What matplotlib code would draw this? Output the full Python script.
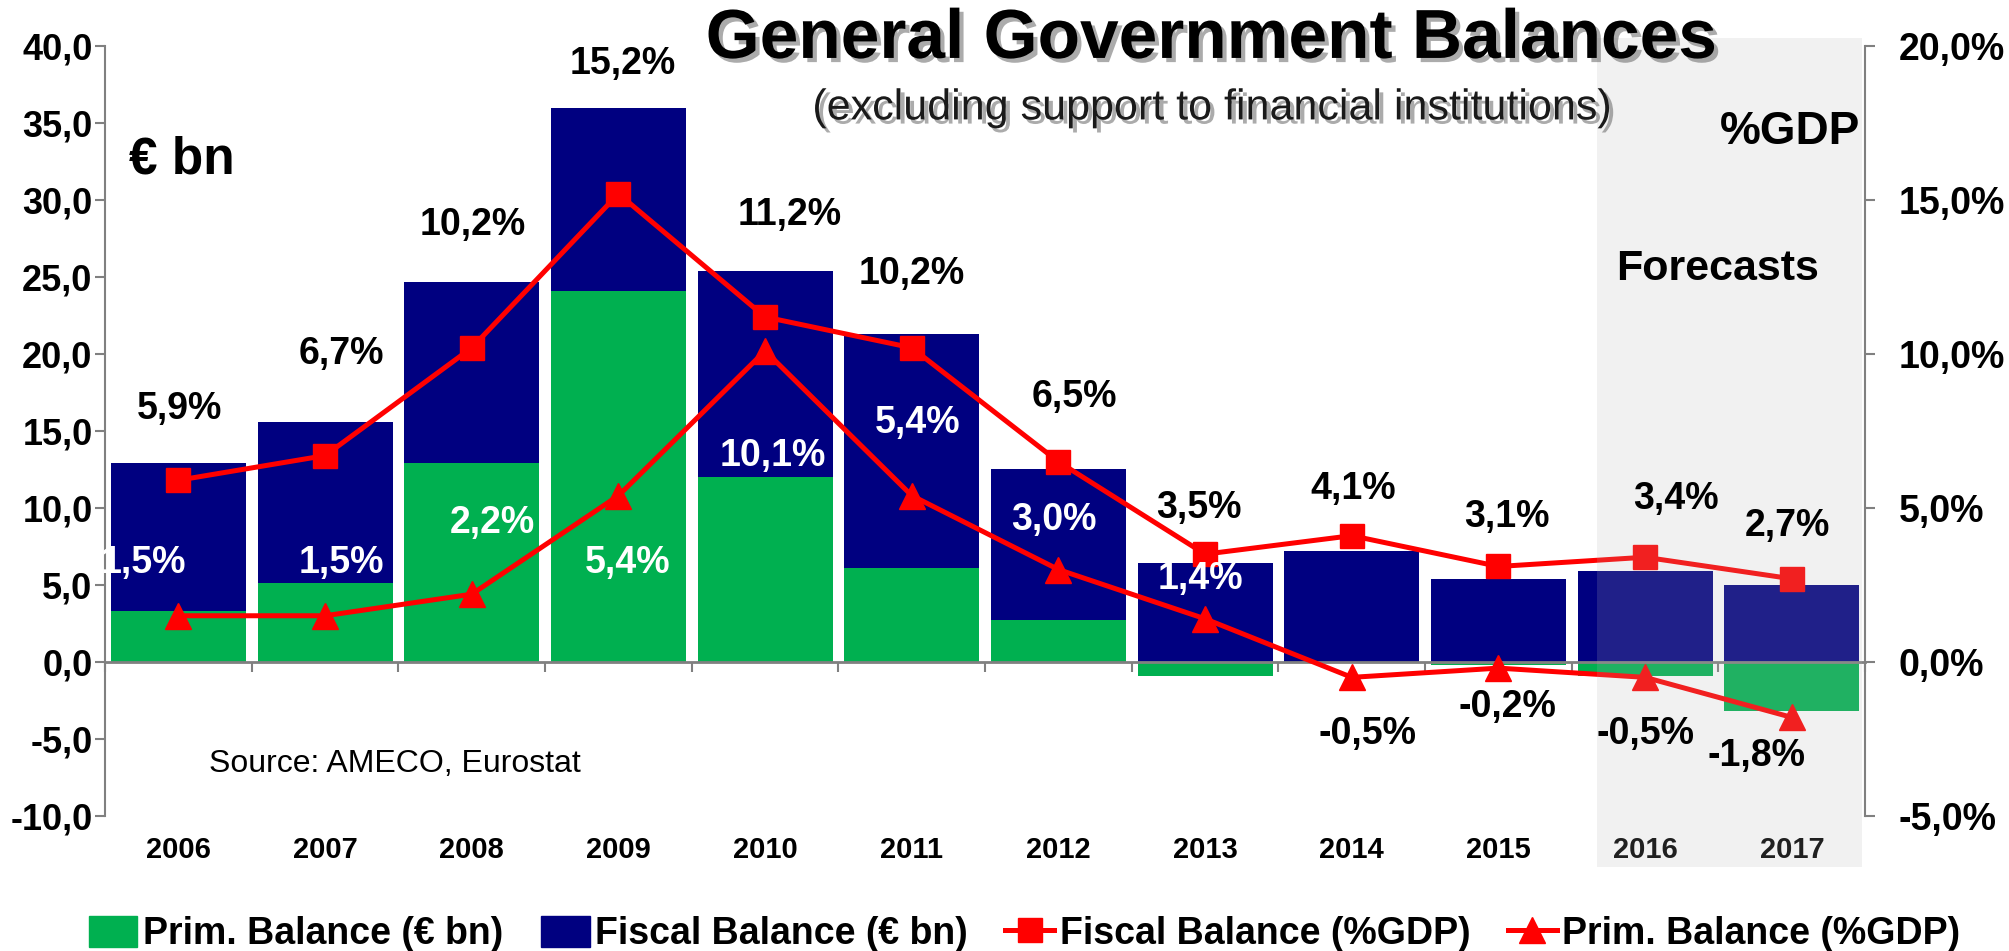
import matplotlib
matplotlib.use('Agg')
import matplotlib.pyplot as plt
import matplotlib.patheffects as pe
from matplotlib.patches import Patch, Rectangle
from matplotlib.lines import Line2D
from matplotlib.ticker import FuncFormatter, FixedLocator
from matplotlib.transforms import blended_transform_factory

plt.rcParams['font.family'] = ['Liberation Sans', 'DejaVu Sans']

years = ['2006', '2007', '2008', '2009', '2010', '2011',
         '2012', '2013', '2014', '2015', '2016', '2017']
fiscal_bn = [12.9, 15.6, 24.7, 36.0, 25.4, 21.3, 12.5, 6.4, 7.2, 5.4, 5.9, 5.0]
prim_bn = [3.3, 5.1, 12.9, 24.1, 12.0, 6.1, 2.7, -0.9, 0.0, -0.2, -0.9, -3.2]
fiscal_pct = [5.9, 6.7, 10.2, 15.2, 11.2, 10.2, 6.5, 3.5, 4.1, 3.1, 3.4, 2.7]
prim_pct = [1.5, 1.5, 2.2, 5.4, 10.1, 5.4, 3.0, 1.4, -0.5, -0.2, -0.5, -1.8]

# label placement (right axis units / category offsets)
fiscal_lab_y = [8.2, 10.0, 14.2, 19.4, 14.5, 12.6, 8.6, 5.0, 5.6, 4.7, 5.3, 4.4]
fiscal_lab_dx = [0.01, 0.11, 0.01, 0.03, 0.17, 0.0, 0.11, -0.04, 0.01, 0.06, 0.21, -0.03]
prim_lab_y = [3.2, 3.2, 4.5, 3.2, 6.7, 7.75, 4.6, 2.7, -2.35, -1.45, -2.35, -3.05]
prim_lab_dx = [-0.24, 0.11, 0.14, 0.06, 0.05, 0.04, -0.03, -0.03, 0.11, 0.06, 0.0, -0.24]

NAVY = '#000080'
GREEN = '#00B050'
RED = '#FF0000'
GREY = '#808080'


def pct(v):
    return ('%.1f%%' % v).replace('.', ',')


fig = plt.figure(figsize=(20.09, 9.51), dpi=100)
ax = fig.add_axes([0.0523, 0.142, 0.8761, 0.8097])
x = list(range(len(years)))

ax.bar(x, fiscal_bn, width=0.92, color=NAVY, zorder=2)
ax.bar(x, prim_bn, width=0.92, color=GREEN, zorder=3)
ax.set_xlim(-0.5, 11.5)
ax.set_ylim(-10, 40)
ax.set_yticks(range(-10, 41, 5))
ax.yaxis.set_major_formatter(FuncFormatter(lambda v, p: ('%.1f' % v).replace('.', ',')))

for s in ['top', 'right']:
    ax.spines[s].set_visible(False)
ax.spines['left'].set_color(GREY)
ax.spines['left'].set_linewidth(1.5)
ax.spines['bottom'].set_position(('data', 0))
ax.spines['bottom'].set_color(GREY)
ax.spines['bottom'].set_linewidth(2)
ax.spines['bottom'].set_zorder(4)
ax.set_xticks([])
ax.xaxis.set_minor_locator(FixedLocator([i - 0.5 for i in range(13)]))
ax.tick_params(axis='x', which='minor', direction='out', length=7, width=1.5, color=GREY)
ax.tick_params(axis='y', direction='out', length=7, width=1.5, color=GREY,
               labelsize=26, pad=2)
for t in ax.get_yticklabels():
    t.set_fontweight('bold')

tr = blended_transform_factory(ax.transData, ax.transAxes)
for i, y in enumerate(years):
    ax.text(i, -0.044, y, transform=tr, ha='center', va='center',
            fontsize=21, fontweight='bold')

ax2 = ax.twinx()
ax2.set_ylim(-5, 20)
ax2.set_yticks(range(-5, 21, 5))
ax2.yaxis.set_major_formatter(FuncFormatter(lambda v, p: pct(v)))
for s in ['top', 'left', 'bottom']:
    ax2.spines[s].set_visible(False)
ax2.spines['right'].set_color(GREY)
ax2.spines['right'].set_linewidth(1.5)
ax2.tick_params(axis='y', direction='out', length=7, width=1.5, color=GREY,
                labelsize=27, pad=17)
for t in ax2.get_yticklabels():
    t.set_fontweight('bold')

ax2.plot(x, fiscal_pct, color=RED, lw=3.6, marker='s', ms=17, zorder=3)
ax2.plot(x, prim_pct, color=RED, lw=3.6, marker='^', ms=19, zorder=3)

for i in x:
    ax2.text(i + fiscal_lab_dx[i], fiscal_lab_y[i], pct(fiscal_pct[i]), ha='center',
             va='center', fontsize=27, fontweight='bold', color='black', zorder=6)
    ax2.text(i + prim_lab_dx[i], prim_lab_y[i], pct(prim_pct[i]), ha='center',
             va='center', fontsize=27, fontweight='bold', zorder=6,
             color='white' if prim_pct[i] > 0 else 'black')

# forecast shading
tr2 = blended_transform_factory(ax2.transData, ax2.transAxes)
ax2.add_patch(Rectangle((9.67, -0.066), 11.48 - 9.67, 1.076, transform=tr2,
                        facecolor=(0.714, 0.714, 0.714), alpha=0.18,
                        edgecolor='none', clip_on=False, zorder=5))

shadow = [pe.SimplePatchShadow(offset=(3, -3), shadow_rgbFace='0.45', alpha=0.6), pe.Normal()]
fig.text(0.603, 0.958, 'General Government Balances', ha='center', va='center',
         fontsize=50, fontweight='bold', path_effects=shadow)
fig.text(0.603, 0.886, '(excluding support to financial institutions)', ha='center',
         va='center', fontsize=31, color='#1a1a1a', path_effects=shadow)
fig.text(0.064, 0.832, '\u20ac bn', ha='left', va='center', fontsize=37, fontweight='bold')
fig.text(0.926, 0.861, '%GDP', ha='right', va='center', fontsize=33, fontweight='bold')
fig.text(0.855, 0.717, 'Forecasts', ha='center', va='center', fontsize=31, fontweight='bold')
fig.text(0.104, 0.197, 'Source: AMECO, Eurostat', ha='left', va='center', fontsize=23)

handles = [Patch(color=GREEN), Patch(color=NAVY),
           Line2D([], [], color=RED, lw=3.6, marker='s', ms=17),
           Line2D([], [], color=RED, lw=3.6, marker='^', ms=19)]
labels = ['Prim. Balance (\u20ac bn)', 'Fiscal Balance (\u20ac bn)',
          'Fiscal Balance (%GDP)', 'Prim. Balance (%GDP)']
fig.legend(handles, labels, loc='center', bbox_to_anchor=(0.51, 0.018), ncol=4,
           frameon=False, prop={'size': 27, 'weight': 'bold'}, handlelength=1.3,
           handleheight=0.9, handletextpad=0.15, columnspacing=1.0)

fig.savefig('out.png', dpi=100)
